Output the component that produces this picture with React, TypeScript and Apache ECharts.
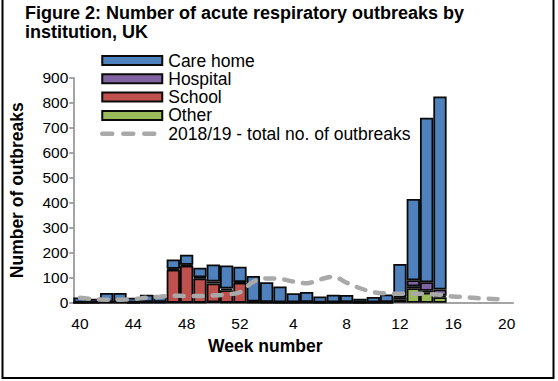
import React, { useEffect, useRef } from "react";
import * as echarts from "echarts";

const weeks = [
  "40", "41", "42", "43", "44", "45", "46", "47", "48", "49", "50", "51", "52",
  "1", "2", "3", "4", "5", "6", "7", "8", "9", "10", "11", "12", "13", "14", "15",
  "16", "17", "18", "19", "20",
];

const careHome = [20, 15, 36, 36, 19, 29, 27, 37, 40, 38, 68, 92, 61, 102, 79, 63, 36, 40, 24, 30, 28, 15, 21, 30, 129, 325, 658, 772, null, null, null, null, null];
const hospital = [1, 0, 1, 1, 1, 1, 1, 4, 4, 5, 8, 7, 3, 3, 2, 2, 2, 2, 1, 2, 2, 1, 1, 2, 4, 24, 34, 25, null, null, null, null, null];
const school = [0, 1, 2, 2, 0, 2, 2, 132, 148, 97, 75, 50, 80, 2, 1, 0, 0, 1, 0, 0, 1, 0, 1, 1, 10, 8, 8, 6, null, null, null, null, null];
const other = [0, 0, 0, 0, 0, 0, 0, 0, 0, 0, 2, 0, 0, 0, 0, 0, 0, 0, 0, 0, 0, 0, 0, 0, 12, 58, 40, 22, null, null, null, null, null];
const total1819 = [20, 14, 12, 12, 14, 20, 24, 28, 27, 27, 29, 33, 42, 84, 97, 95, 85, 78, 93, 104, 80, 58, 42, 37, 36, 36, 35, 32, 25, 22, 17, 15, 12];

const yTicks = { min: 0, max: 900, interval: 100 };

const FONT = "Liberation Sans, Arial, sans-serif";
const AXIS_GRAY = "#868686";
const BORDER = "#0a0a0a";
const LINE_GRAY = "#a9a9a9";

export default function App() {
  const ref = useRef<HTMLDivElement>(null);
  useEffect(() => {
    if (!ref.current) return;
    const chart = echarts.init(ref.current, undefined, { renderer: "svg" });
    const barStyle = (color: string) => ({ color, borderColor: BORDER, borderWidth: 1.8 });
    const lineDash = { color: LINE_GRAY, width: 4.5, type: [9, 10] as number[], cap: "round" as const };
    chart.setOption({
      animation: false,
      backgroundColor: "#fff",
      title: {
        text: "Figure 2: Number of acute respiratory outbreaks by\ninstitution, UK",
        left: 25,
        top: 3,
        padding: 0,
        textStyle: { fontFamily: FONT, fontSize: 18, fontWeight: "bold", color: "#000", lineHeight: 19.5 },
      },
      graphic: [
        {
          type: "rect",
          shape: { x: 2.5, y: -10, width: 551, height: 388 },
          style: { fill: "none", stroke: "#000", lineWidth: 2 },
          silent: true,
        },
      ],
      legend: {
        orient: "vertical",
        left: 100,
        top: 51.5,
        itemWidth: 60,
        itemHeight: 9,
        itemGap: 0.3,
        padding: 0,
        textStyle: { fontFamily: FONT, fontSize: 17.5, color: "#000", lineHeight: 18, padding: [0, 0, 0, 1] },
        data: [
          { name: "Care home", icon: "rect", itemStyle: { borderColor: BORDER, borderWidth: 2 } },
          { name: "Hospital", icon: "rect", itemStyle: { borderColor: BORDER, borderWidth: 2 } },
          { name: "School", icon: "rect", itemStyle: { borderColor: BORDER, borderWidth: 2 } },
          { name: "Other", icon: "rect", itemStyle: { borderColor: BORDER, borderWidth: 2 } },
          {
            name: "2018/19 - total no. of outbreaks",
            lineStyle: { color: LINE_GRAY, width: 4.5, type: [10, 11], cap: "round" },
            itemStyle: { color: "transparent", opacity: 0, borderWidth: 0 },
          },
        ],
      },
      grid: { left: 73.3, right: 44.7, top: 77.7, bottom: 78.3, containLabel: false },
      xAxis: {
        type: "category",
        data: weeks,
        boundaryGap: true,
        name: "Week number",
        nameLocation: "middle",
        nameGap: 34,
        nameTextStyle: { fontFamily: FONT, fontSize: 17.5, fontWeight: "bold", color: "#000", padding: [0, 56, 0, 0] },
        axisLine: { lineStyle: { color: AXIS_GRAY, width: 1.5 } },
        axisTick: { interval: 1, length: 5, lineStyle: { color: AXIS_GRAY, width: 1.5 } },
        axisLabel: { interval: 3, margin: 13, fontFamily: FONT, fontSize: 15.5, color: "#000" },
        splitLine: { show: false },
      },
      yAxis: {
        type: "value",
        min: yTicks.min,
        max: yTicks.max,
        interval: yTicks.interval,
        name: "Number of outbreaks",
        nameLocation: "middle",
        nameGap: 47,
        nameTextStyle: { fontFamily: FONT, fontSize: 17.5, fontWeight: "bold", color: "#000" },
        axisLine: { show: true, lineStyle: { color: AXIS_GRAY, width: 1.5 } },
        axisTick: { show: true, length: 4, lineStyle: { color: AXIS_GRAY, width: 1.5 } },
        axisLabel: { margin: 5, fontFamily: FONT, fontSize: 15.5, color: "#000" },
        splitLine: { show: false },
      },
      series: [
        { name: "Other", type: "bar", stack: "t", data: other, itemStyle: barStyle("#9bbb59"), barCategoryGap: "0%" },
        { name: "School", type: "bar", stack: "t", data: school, itemStyle: barStyle("#c0504d"), barCategoryGap: "0%" },
        { name: "Hospital", type: "bar", stack: "t", data: hospital, itemStyle: barStyle("#8064a2"), barCategoryGap: "0%" },
        { name: "Care home", type: "bar", stack: "t", data: careHome, itemStyle: barStyle("#4f81bd"), barCategoryGap: "0%" },
        {
          name: "2018/19 - total no. of outbreaks",
          type: "line",
          data: total1819,
          smooth: 0.35,
          symbol: "none",
          showSymbol: false,
          lineStyle: lineDash,
          itemStyle: { color: LINE_GRAY },
          z: 5,
        },
      ],
    });
    return () => chart.dispose();
  }, []);
  return (
    <div
      ref={ref}
      style={{ position: "absolute", left: 0, top: 0, width: 558, height: 381, background: "#fff" }}
    />
  );
}
